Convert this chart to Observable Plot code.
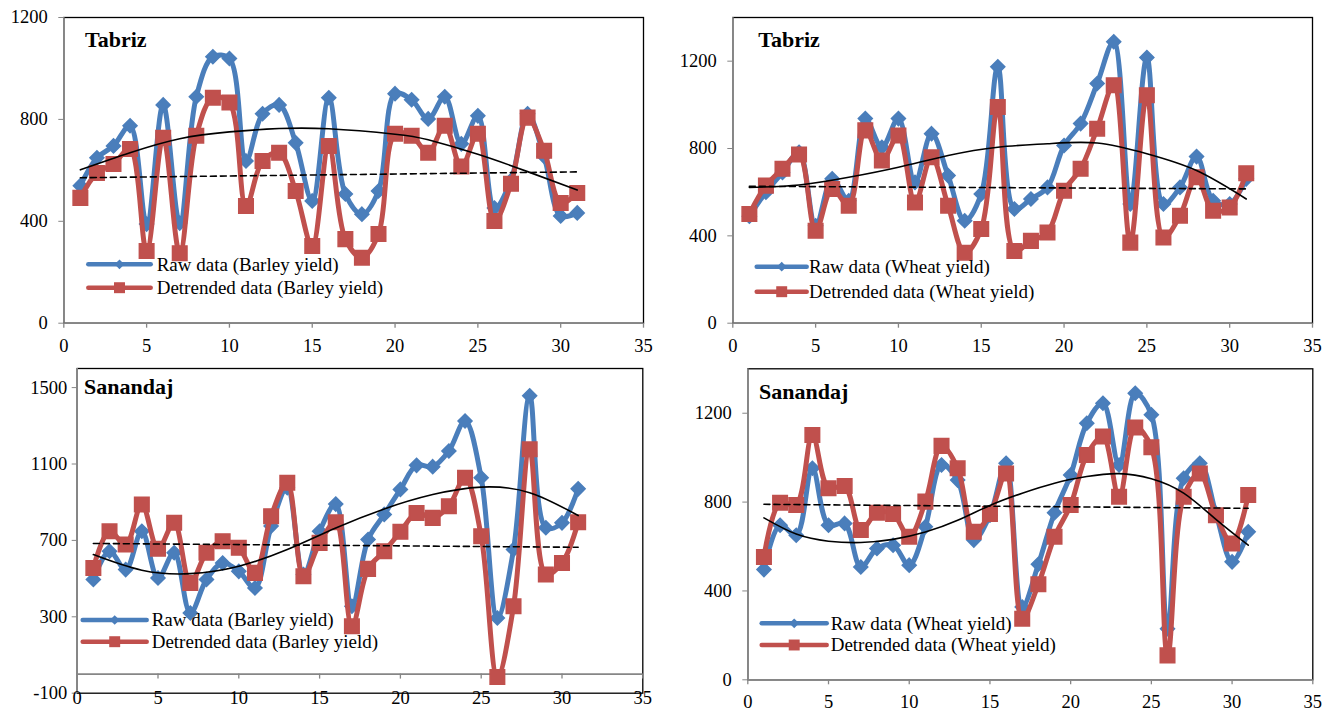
<!DOCTYPE html>
<html><head><meta charset="utf-8">
<script src="https://cdn.jsdelivr.net/npm/d3@7"></script>
<script src="https://cdn.jsdelivr.net/npm/@observablehq/plot@0.6"></script>
<style>
body{margin:0;background:#fff;}
#wrap{position:relative;width:1335px;height:712px;overflow:hidden;background:#fff;}
#wrap svg{position:absolute;overflow:visible;}
</style></head><body><div id="wrap"></div>
<script>
// ---------- data ----------
const years = [1,2,3,4,5,6,7,8,9,10,11,12,13,14,15,16,17,18,19,20,21,22,23,24,25,26,27,28,29,30,31];
const xTicks = [0,5,10,15,20,25,30,35];

// Tabriz – barley
const tabrizBarleyRaw  = [540,649,696,775,389,857,393,889,1046,1039,637,822,857,708,480,885,507,428,519,901,877,802,889,704,814,452,560,822,655,421,433];
const tabrizBarleyDetr = [492,590,625,684,283,728,275,736,885,866,460,637,669,519,303,696,330,257,350,744,736,669,775,615,744,401,547,807,677,472,511];
const tabrizBarleyTrendX = [1,4,7,10,13,16,20,22,25,28,31];
const tabrizBarleyTrendY = [602,669,724,751,764,763,742,720,663,595,523];
const tabrizBarleyLinY = [571,594];

// Tabriz – wheat
const tabrizWheatRaw  = [490,600,690,783,446,661,561,937,806,937,645,868,676,469,592,1174,523,569,622,814,914,1098,1289,546,1217,546,622,763,561,546,661];
const tabrizWheatDetr = [500,630,707,773,423,615,538,883,745,860,553,760,538,323,431,990,331,377,415,607,707,891,1090,369,1044,392,492,668,515,530,687];
const tabrizWheatTrendX = [1,4,7,10,13,16,19,22,25,28,31];
const tabrizWheatTrendY = [622,633,668,714,768,806,822,825,776,699,569];
const tabrizWheatLinY = [627,615];

// Sanandaj – barley
const sanandajBarleyRaw  = [495,643,547,748,503,635,320,495,582,538,451,775,976,521,748,890,355,705,836,967,1093,1086,1168,1325,1028,294,652,1457,766,792,970];
const sanandajBarleyDetr = [556,748,678,888,656,792,477,635,696,661,530,827,1002,512,687,795,250,551,643,745,844,818,879,1028,722,-15,355,1177,521,582,795];
const sanandajBarleyTrendX = [1,4,7,10,13,16,19,22,25,28,31];
const sanandajBarleyTrendY = [626,544,526,565,652,765,865,940,979,950,830];
const sanandajBarleyLinY = [684,664];

// Sanandaj – wheat
const sanandajWheatRaw  = [496,696,651,952,696,704,508,591,606,516,689,967,899,629,741,975,328,520,752,922,1155,1245,967,1290,1193,230,907,975,749,531,666];
const sanandajWheatDetr = [553,797,787,1102,862,872,674,752,746,644,802,1053,952,666,746,929,275,430,644,787,1012,1095,824,1136,1047,110,824,929,741,614,832];
const sanandajWheatTrendX = [1,3,5,7,9,11,13,15,17,19,21,23,25,27,29,31];
const sanandajWheatTrendY = [729,656,624,618,632,665,718,785,840,885,915,928,905,840,722,606];
const sanandajWheatLinY = [790,772];

const linX = [1,31];

// ---------- style ----------
const BLUE = "#4a7ebb", RED = "#c0504d", GRAY = "#868686";
const FONT = "'Liberation Serif','Times New Roman',serif";

function panel(cfg){
  const rows = years.map((t,i)=>({t, raw: cfg.raw[i], detr: cfg.detr[i]}));
  const trend = cfg.trendX.map((t,i)=>({t, v: cfg.trendY[i]}));
  const lin = linX.map((t,i)=>({t, v: cfg.linY[i]}));
  const svg = Plot.plot({
    width: cfg.w, height: cfg.h,
    marginTop: cfg.m[0], marginRight: cfg.m[1], marginBottom: cfg.m[2], marginLeft: cfg.m[3],
    style: {fontFamily: FONT, fontSize: "18.5px", color: "#000", background: "transparent", overflow: "visible"},
    x: {domain: [0,35]},
    y: {domain: cfg.yDomain},
    marks: [
      Plot.frame({stroke: "#000", strokeWidth: 1.3}),
      Plot.ruleX([0], {stroke: GRAY, strokeWidth: 1.6}),
      Plot.ruleY([0], {stroke: GRAY, strokeWidth: 1.6}),
      Plot.ruleX(xTicks, {x: d=>d, y1: 0, y2: 0, insetBottom: -5, stroke: GRAY, strokeWidth: 1.3}),
      Plot.axisY({ticks: cfg.yTicks, tickSize: 5, tickPadding: cfg.yPad, stroke: GRAY, tickFormat: d=>String(d), fontSize: 18.5, label: null}),
      Plot.axisX({ticks: xTicks, tickSize: 0, tickPadding: cfg.xPad, tickFormat: d=>String(d), fontSize: 18.5, label: null}),
      Plot.line(rows, {x: "t", y: "raw", stroke: BLUE, strokeWidth: 5, curve: "catmull-rom"}),
      Plot.dot(rows, {x: "t", y: "raw", symbol: "diamond2", r: 6.3, fill: BLUE, stroke: BLUE}),
      Plot.line(rows, {x: "t", y: "detr", stroke: RED, strokeWidth: 5, curve: "catmull-rom"}),
      Plot.dot(rows, {x: "t", y: "detr", symbol: "square", r: 8.2, fill: RED, stroke: RED}),
      Plot.line(trend, {x: "t", y: "v", stroke: "#000", strokeWidth: 1.6, curve: "natural"}),
      Plot.line(lin, {x: "t", y: "v", stroke: "#000", strokeWidth: 1.6, strokeDasharray: "6,4"})
    ]
  });
  svg.style.left = cfg.left + "px";
  svg.style.top = cfg.top + "px";
  const g = d3.select(svg).append("g").attr("font-family", FONT).attr("text-anchor", "start");
  g.append("text").attr("x", cfg.title[1]).attr("y", cfg.title[2]).attr("text-anchor", "start")
    .attr("font-size", 22).attr("font-weight", "bold").attr("fill", "#000").text(cfg.title[0]);
  const L = cfg.legend; // [x1, x2, textX, row1, row2]
  const items = [
    {label: "Raw data (" + cfg.crop + " yield)", color: BLUE, sym: d3.symbolDiamond2, size: 60, y: L[3]},
    {label: "Detrended data (" + cfg.crop + " yield)", color: RED, sym: d3.symbolSquare, size: 120, y: L[4]}
  ];
  for (const it of items) {
    g.append("line").attr("x1", L[0]).attr("x2", L[1]).attr("y1", it.y).attr("y2", it.y)
      .attr("stroke", it.color).attr("stroke-width", 4.5).attr("stroke-linecap", "round");
    g.append("path").attr("d", d3.symbol(it.sym, it.size)())
      .attr("transform", `translate(${(L[0]+L[1])/2},${it.y})`).attr("fill", it.color);
    g.append("text").attr("x", L[2]).attr("y", it.y).attr("dy", "0.33em").attr("text-anchor", "start")
      .attr("font-size", 19).attr("fill", "#000").text(it.label);
  }
  document.getElementById("wrap").appendChild(svg);
}

panel({left: 0, top: 0, w: 667, h: 360, m: [17, 24, 37.3, 63.3], yDomain: [0,1200], yTicks: [0,400,800,1200],
  yPad: 11, xPad: 15.4, raw: tabrizBarleyRaw, detr: tabrizBarleyDetr, trendX: tabrizBarleyTrendX, trendY: tabrizBarleyTrendY,
  linY: tabrizBarleyLinY, title: ["Tabriz", 85, 46.5], crop: "Barley", legend: [88.3, 150.7, 156.7, 264.3, 287.7]});
panel({left: 667, top: 0, w: 668, h: 360, m: [17, 23, 37.3, 65.3], yDomain: [0,1400], yTicks: [0,400,800,1200],
  yPad: 11, xPad: 15.4, raw: tabrizWheatRaw, detr: tabrizWheatDetr, trendX: tabrizWheatTrendX, trendY: tabrizWheatTrendY,
  linY: tabrizWheatLinY, title: ["Tabriz", 91.3, 46.5], crop: "Wheat", legend: [89.7, 139.7, 142, 266.7, 291.7]});
panel({left: 0, top: 360, w: 667, h: 352, m: [8, 24.7, 19.3, 76.7], yDomain: [-100,1600], yTicks: [-100,300,700,1100,1500],
  yPad: 5, xPad: -2.6, raw: sanandajBarleyRaw, detr: sanandajBarleyDetr, trendX: sanandajBarleyTrendX, trendY: sanandajBarleyTrendY,
  linY: sanandajBarleyLinY, title: ["Sanandaj", 84, 34.3], crop: "Barley", legend: [82.7, 146.7, 151.7, 260, 281.7]});
panel({left: 667, top: 360, w: 668, h: 352, m: [8.3, 22.7, 32.7, 80.3], yDomain: [0,1400], yTicks: [0,400,800,1200],
  yPad: 11, xPad: 15.5, raw: sanandajWheatRaw, detr: sanandajWheatDetr, trendX: sanandajWheatTrendX, trendY: sanandajWheatTrendY,
  linY: sanandajWheatLinY, title: ["Sanandaj", 92, 39.3], crop: "Wheat", legend: [94.7, 159.7, 163.7, 263.3, 285]});
</script></body></html>
